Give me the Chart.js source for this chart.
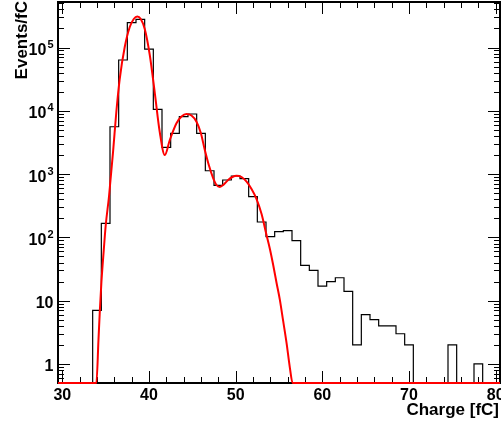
<!DOCTYPE html>
<html>
<head>
<meta charset="utf-8">
<script src="https://cdn.jsdelivr.net/npm/chart.js@4/dist/chart.umd.min.js"></script>
<style>
  html, body { margin: 0; padding: 0; background: #fff; }
  #wrap { width: 501px; height: 427px; }
</style>
</head>
<body>
<div id="wrap"><canvas id="c" width="501" height="427"></canvas></div>
<script>
// charge spectrum, 1 fC bins, log y axis, multi-gaussian fit on top

const BIN_CENTERS = [
  30, 31, 32, 33, 34, 35, 36, 37, 38, 39,
  40, 41, 42, 43, 44, 45, 46, 47, 48, 49,
  50, 51, 52, 53, 54, 55, 56, 57, 58, 59,
  60, 61, 62, 63, 64, 65, 66, 67, 68, 69,
  70, 71, 72, 73, 74, 75, 76, 77, 78, 79, 80
];
const COUNTS = [
  0, 0, 0, 0, 7, 167, 5600, 63500, 247000, 279000,
  94000, 10500, 2650, 4400, 8100, 8900, 4400, 1130, 665, 807,
  933, 850, 440, 175, 103, 123, 128, 89, 36, 30,
  17, 20, 23, 14, 2, 6, 5, 4, 4, 3,
  2, 0, 0, 0, 0, 2, 0, 0, 1, 0, 0
];

// fit curve (values below the axis floor sit on it)
const FIT_X = [
  29.5, 33.93, 34.17, 34.32, 34.51, 34.78, 35.01, 35.39, 35.85, 36.24,
  36.62, 37.2, 37.78, 38.24, 38.65, 39.05, 39.51, 40.09, 40.67, 41.24,
  41.82, 42.4, 43.17, 43.75, 44.33, 44.9, 45.48, 45.98, 46.44, 46.9,
  47.4, 47.79, 48.17, 48.63, 49.13, 49.62, 50.1, 50.68, 51.26, 51.83,
  52.41, 52.99, 53.56, 53.95, 54.33, 54.72, 55.1, 55.48, 55.87, 56.26,
  56.57, 80.5
];
const FIT_Y = [
  0.5, 0.5, 2.4, 6.6, 19.7, 63, 157, 451, 2230, 9930,
  31800, 101900, 211000, 282000, 309000, 282000, 196000, 76200, 19100, 4620,
  2000, 3460, 6350, 8130, 8900, 8430, 6730, 4460, 2400, 1390,
  867, 673, 626, 685, 807, 900, 944, 900, 759, 582,
  404, 234, 109, 65.6, 36.6, 19.0, 10.3, 4.78, 2.15, 0.86,
  0.5, 0.5
];

const X_MIN = 29.5, X_MAX = 80.5;
const Y_MIN = 0.5, Y_MAX = 5.24e5;

const X_MAJOR = [30, 40, 50, 60, 70, 80];
const X_LABELS = ['30', '40', '50', '60', '70', '80'];
const X_MINOR_STEP = 2;
const Y_MAJOR = [1, 10, 100, 1000, 10000, 100000];
const Y_LABEL_BASE = ['1', '10', '10', '10', '10', '10'];
const Y_LABEL_EXP = ['', '', '2', '3', '4', '5'];

const X_TITLE = 'Charge [fC]';
const Y_TITLE = 'Events/fC';

const FONT = '"Liberation Sans", Arial, Helvetica, sans-serif';

// histogram outline: one point per left bin edge + closing right edge
const histPoints = BIN_CENTERS.map((c, i) => ({ x: c - 0.5, y: Math.max(COUNTS[i], Y_MIN) }));
histPoints.push({ x: BIN_CENTERS[BIN_CENTERS.length - 1] + 0.5, y: Math.max(COUNTS[COUNTS.length - 1], Y_MIN) });

const fitPoints = FIT_X.map((x, i) => ({ x, y: Math.max(FIT_Y[i], Y_MIN) }));

// ROOT style frame: ticks pointing inward on all four sides
function yMinorValues() {
  const out = [];
  for (let d = 0.1; d <= 1e5; d *= 10) {
    for (let m = 2; m <= 9; m++) {
      const v = m * d;
      if (v >= Y_MIN && v <= Y_MAX) out.push(v);
    }
  }
  return out;
}

const rootFrame = {
  id: 'rootFrame',
  beforeDatasetsDraw(chart) {
    const { ctx, chartArea: a, scales: { x, y } } = chart;
    ctx.save();
    ctx.strokeStyle = '#000';
    ctx.lineWidth = 1;
    ctx.beginPath();
    const xTick = (v, len) => {
      const px = Math.round(x.getPixelForValue(v)) + 0.5;
      ctx.moveTo(px, a.bottom); ctx.lineTo(px, a.bottom - len);
      ctx.moveTo(px, a.top); ctx.lineTo(px, a.top + len);
    };
    const yTick = (v, len) => {
      const py = Math.round(y.getPixelForValue(v)) + 0.5;
      ctx.moveTo(a.left, py); ctx.lineTo(a.left + len, py);
      ctx.moveTo(a.right, py); ctx.lineTo(a.right - len, py);
    };
    for (let v = X_MAJOR[0]; v <= X_MAX; v += X_MINOR_STEP) {
      if (!X_MAJOR.includes(v)) xTick(v, 6);
    }
    X_MAJOR.forEach(v => xTick(v, 12));
    yMinorValues().forEach(v => yTick(v, 6));
    Y_MAJOR.forEach(v => yTick(v, 12));
    ctx.stroke();

    ctx.lineWidth = 2;
    ctx.strokeRect(a.left, a.top, a.right - a.left, a.bottom - a.top);
    ctx.restore();
  },
  afterDraw(chart) {
    const { ctx, chartArea: a, scales: { x, y } } = chart;
    ctx.save();
    ctx.fillStyle = '#000';

    // x tick labels
    ctx.font = `bold 16px ${FONT}`;
    ctx.textAlign = 'center';
    ctx.textBaseline = 'alphabetic';
    X_MAJOR.forEach((v, i) => ctx.fillText(X_LABELS[i], x.getPixelForValue(v), a.bottom + 17));

    // y tick labels, exponent drawn as superscript
    const right = a.left - 4.5;
    Y_MAJOR.forEach((v, i) => {
      const py = y.getPixelForValue(v);
      ctx.font = `bold 16px ${FONT}`;
      const wb = ctx.measureText(Y_LABEL_BASE[i]).width;
      let we = 0;
      if (Y_LABEL_EXP[i]) {
        ctx.font = `bold 11px ${FONT}`;
        we = ctx.measureText(Y_LABEL_EXP[i]).width + 1;
      }
      ctx.textAlign = 'left';
      ctx.font = `bold 16px ${FONT}`;
      ctx.fillText(Y_LABEL_BASE[i], right - wb - we, py + 7.5);
      if (Y_LABEL_EXP[i]) {
        ctx.font = `bold 11px ${FONT}`;
        ctx.fillText(Y_LABEL_EXP[i], right - we + 1, py + 0.5);
      }
    });

    // axis titles, right/top aligned like ROOT
    ctx.font = `bold 17px ${FONT}`;
    ctx.textAlign = 'right';
    ctx.fillText(X_TITLE, a.right - 1, a.bottom + 32);

    ctx.translate(26.5, 0);
    ctx.rotate(-Math.PI / 2);
    ctx.textAlign = 'right';
    ctx.fillText(Y_TITLE, -1, 0);
    ctx.restore();
  }
};

new Chart(document.getElementById('c').getContext('2d'), {
  type: 'line',
  data: {
    datasets: [
      {
        label: 'fit',
        data: fitPoints,
        borderColor: '#ff0000',
        borderWidth: 2,
        pointRadius: 0,
        cubicInterpolationMode: 'monotone',
        fill: false,
        clip: 3,
      },
      {
        label: 'data',
        data: histPoints,
        borderColor: '#000000',
        borderWidth: 1.2,
        pointRadius: 0,
        stepped: 'before',
        fill: false,
        clip: 3,
      },
    ],
  },
  options: {
    responsive: false,
    animation: false,
    events: [],
    layout: { padding: { left: 58, right: 1, top: 2, bottom: 44 } },
    plugins: {
      legend: { display: false },
      tooltip: { enabled: false },
    },
    scales: {
      x: { type: 'linear', min: X_MIN, max: X_MAX, display: false },
      y: { type: 'logarithmic', min: Y_MIN, max: Y_MAX, display: false },
    },
  },
  plugins: [rootFrame],
});
</script>
</body>
</html>
